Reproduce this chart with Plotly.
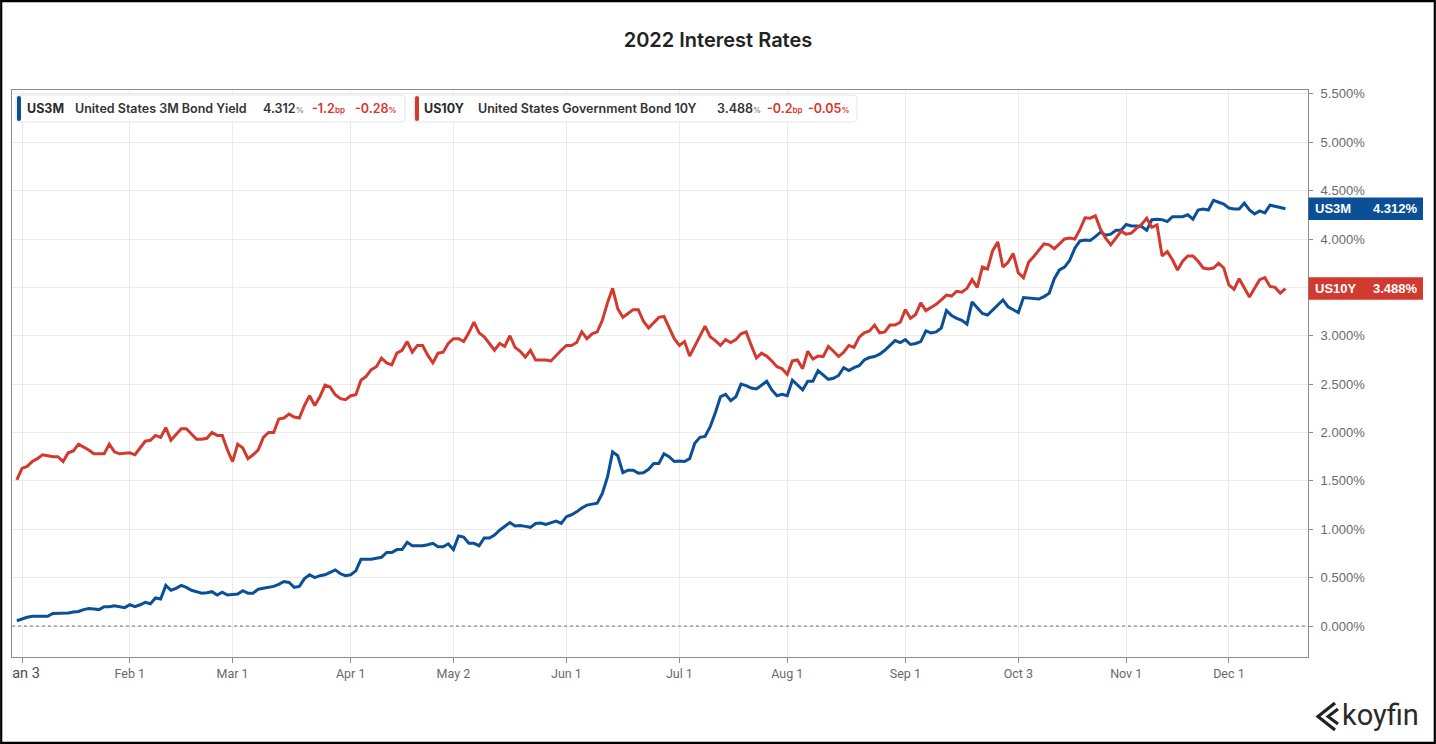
import plotly.graph_objects as go
import pandas as pd

# ---------------- data ----------------
HOLIDAYS = ["2022-04-15", "2022-11-11", "2022-11-24"]
trading_days = [d.strftime("%Y-%m-%d") for d in pd.bdate_range("2021-12-31", "2022-12-16")
                if d.strftime("%Y-%m-%d") not in HOLIDAYS]

us10y_dec21 = [1.51]
us10y_jan = [1.63, 1.65, 1.70, 1.73, 1.77, 1.76, 1.75, 1.75, 1.70, 1.79, 1.81, 1.88, 1.85, 1.82, 1.78, 1.78, 1.78, 1.88, 1.80, 1.78, 1.785]
us10y_feb = [1.79, 1.77, 1.84, 1.91, 1.92, 1.97, 1.95, 2.05, 1.92, 1.98, 2.04, 2.04, 1.99, 1.93, 1.93, 1.94, 2.00, 1.97, 1.97, 1.82]
us10y_mar = [1.70, 1.88, 1.84, 1.73, 1.77, 1.82, 1.95, 2.00, 2.00, 2.14, 2.15, 2.19, 2.16, 2.15, 2.28, 2.38, 2.28, 2.37, 2.49, 2.47, 2.39, 2.35, 2.34]
us10y_apr = [2.38, 2.39, 2.54, 2.58, 2.65, 2.68, 2.77, 2.72, 2.70, 2.82, 2.85, 2.94, 2.83, 2.90, 2.90, 2.80, 2.72, 2.82, 2.83, 2.92]
us10y_may = [2.97, 2.97, 2.94, 3.03, 3.14, 3.03, 2.99, 2.92, 2.85, 2.92, 2.89, 3.00, 2.88, 2.84, 2.78, 2.85, 2.75, 2.75, 2.75, 2.74, 2.80, 2.85]
us10y_jun = [2.90, 2.90, 2.93, 3.04, 2.97, 3.02, 3.04, 3.16, 3.34, 3.49, 3.28, 3.19, 3.23, 3.27, 3.27, 3.15, 3.08, 3.13, 3.19, 3.20, 3.09, 2.97]
us10y_jul = [2.90, 2.94, 2.79, 2.89, 3.00, 3.10, 2.99, 2.95, 2.90, 2.96, 2.93, 2.96, 3.02, 3.04, 2.90, 2.77, 2.82, 2.79, 2.74, 2.68, 2.66]
us10y_aug = [2.60, 2.74, 2.75, 2.66, 2.84, 2.76, 2.79, 2.785, 2.89, 2.84, 2.785, 2.83, 2.90, 2.88, 2.985, 3.03, 3.05, 3.11, 3.03, 3.04, 3.11, 3.11, 3.14]
us10y_sep = [3.27, 3.18, 3.22, 3.34, 3.26, 3.29, 3.325, 3.37, 3.42, 3.41, 3.46, 3.45, 3.49, 3.58, 3.50, 3.71, 3.69, 3.88, 3.97, 3.71, 3.76, 3.85]
us10y_oct = [3.65, 3.60, 3.76, 3.82, 3.89, 3.95, 3.94, 3.90, 3.95, 4.00, 4.01, 4.00, 4.10, 4.22, 4.215, 4.24, 4.10, 4.01, 3.94, 4.01, 4.08]
us10y_nov = [4.05, 4.06, 4.11, 4.15, 4.215, 4.12, 4.145, 3.825, 3.87, 3.785, 3.68, 3.77, 3.825, 3.825, 3.77, 3.70, 3.69, 3.70, 3.75, 3.70]
us10y_dec = [3.525, 3.48, 3.59, 3.49, 3.40, 3.49, 3.58, 3.60, 3.51, 3.50, 3.44, 3.488]

us3m_dec21 = [0.055]
us3m_jan = [0.075, 0.09, 0.10, 0.10, 0.10, 0.10, 0.13, 0.13, 0.13, 0.135, 0.145, 0.15, 0.17, 0.18, 0.175, 0.17, 0.20, 0.20, 0.21, 0.20, 0.19]
us3m_feb = [0.22, 0.20, 0.22, 0.245, 0.23, 0.29, 0.28, 0.42, 0.37, 0.39, 0.42, 0.40, 0.37, 0.355, 0.34, 0.345, 0.355, 0.32, 0.35, 0.32]
us3m_mar = [0.325, 0.33, 0.365, 0.34, 0.34, 0.38, 0.39, 0.40, 0.41, 0.43, 0.46, 0.45, 0.40, 0.41, 0.49, 0.53, 0.50, 0.52, 0.53, 0.555, 0.58, 0.54, 0.52]
us3m_apr = [0.53, 0.57, 0.69, 0.69, 0.69, 0.70, 0.71, 0.76, 0.76, 0.79, 0.79, 0.865, 0.83, 0.83, 0.83, 0.84, 0.855, 0.82, 0.82, 0.85]
us3m_may = [0.79, 0.93, 0.92, 0.855, 0.855, 0.83, 0.91, 0.91, 0.94, 0.99, 1.03, 1.07, 1.035, 1.04, 1.03, 1.02, 1.06, 1.065, 1.05, 1.07, 1.085, 1.06]
us3m_jun = [1.13, 1.15, 1.18, 1.22, 1.25, 1.26, 1.27, 1.37, 1.54, 1.80, 1.76, 1.585, 1.61, 1.61, 1.58, 1.585, 1.62, 1.68, 1.68, 1.78, 1.75, 1.70]
us3m_jul = [1.705, 1.70, 1.73, 1.89, 1.95, 1.96, 2.06, 2.205, 2.37, 2.395, 2.33, 2.37, 2.50, 2.485, 2.46, 2.45, 2.49, 2.53, 2.44, 2.38, 2.395]
us3m_aug = [2.38, 2.54, 2.49, 2.44, 2.53, 2.53, 2.64, 2.595, 2.55, 2.56, 2.59, 2.67, 2.64, 2.67, 2.69, 2.75, 2.775, 2.785, 2.81, 2.85, 2.90, 2.95, 2.93]
us3m_sep = [2.96, 2.91, 2.92, 2.94, 3.05, 3.03, 3.04, 3.08, 3.26, 3.21, 3.18, 3.16, 3.12, 3.35, 3.29, 3.23, 3.215, 3.27, 3.325, 3.37, 3.30, 3.27]
us3m_oct = [3.24, 3.395, 3.39, 3.385, 3.38, 3.405, 3.44, 3.59, 3.68, 3.71, 3.78, 3.905, 3.98, 3.99, 3.985, 4.025, 4.07, 4.04, 4.05, 4.09, 4.09]
us3m_nov = [4.15, 4.135, 4.135, 4.13, 4.09, 4.20, 4.205, 4.20, 4.18, 4.23, 4.23, 4.23, 4.25, 4.205, 4.30, 4.31, 4.30, 4.40, 4.38, 4.36]
us3m_dec = [4.32, 4.31, 4.31, 4.37, 4.30, 4.26, 4.29, 4.27, 4.35, 4.34, 4.325, 4.312]

us10y = (us10y_dec21 + us10y_jan + us10y_feb + us10y_mar + us10y_apr + us10y_may + us10y_jun
         + us10y_jul + us10y_aug + us10y_sep + us10y_oct + us10y_nov + us10y_dec)
us3m = (us3m_dec21 + us3m_jan + us3m_feb + us3m_mar + us3m_apr + us3m_may + us3m_jun
        + us3m_jul + us3m_aug + us3m_sep + us3m_oct + us3m_nov + us3m_dec)

tick_dates = ["2022-01-03", "2022-02-01", "2022-03-01", "2022-04-01", "2022-05-02", "2022-06-01",
              "2022-07-01", "2022-08-01", "2022-09-01", "2022-10-03", "2022-11-01", "2022-12-01"]
tick_labels = ["Jan 3", "Feb 1", "Mar 1", "Apr 1", "May 2", "Jun 1",
               "Jul 1", "Aug 1", "Sep 1", "Oct 3", "Nov 1", "Dec 1"]
y_ticks = [0, 0.5, 1.0, 1.5, 2.0, 2.5, 3.0, 3.5, 4.0, 4.5, 5.0, 5.5]

series_names = ["US3M", "US10Y"]
series_titles = ["United States 3M Bond Yield", "United States Government Bond 10Y"]
last_values = ["4.312", "3.488"]
chg_bp = ["-1.2", "-0.2"]
chg_pct = ["-0.28", "-0.05"]

# ---------------- styling / geometry ----------------
BLUE = "#0b4f96"
RED = "#d23a2f"
GRID = "#ebebeb"
W, H = 1436, 744
PL, PR, PT, PB = 12, 1308, 90, 657   # plot box in pixels
YMIN, YMAX = -0.32, 5.54
XMIN, XMAX = -0.947, 251.4


def px(x):
    return (x - PL) / (PR - PL)


def py(y):
    return (PB - y) / (PB - PT)


def ypix(v):
    return PB - (v - YMIN) / (YMAX - YMIN) * (PB - PT)


# tick values hidden under the last-value tags keep their gridline only
tag_vals = [float(v) for v in last_values]
shown_y = [v for v in y_ticks if all(abs(ypix(v) - ypix(t)) > 9 for t in tag_vals)]
hidden_y = [v for v in y_ticks if v not in shown_y]

fig = go.Figure()
fig.add_trace(go.Scatter(x=trading_days, y=us3m, mode="lines", name="US3M",
                         line=dict(color=BLUE, width=3), hoverinfo="x+y"))
fig.add_trace(go.Scatter(x=trading_days, y=us10y, mode="lines", name="US10Y",
                         line=dict(color=RED, width=3), hoverinfo="x+y"))

ticktext = ["<span style='color:#4a4a4a;font-size:14.5px'>" + tick_labels[0] + "</span>"] + tick_labels[1:]

fig.update_layout(
    width=W, height=H, autosize=False,
    margin=dict(l=PL, r=W - PR, t=PT, b=H - PB, pad=0, autoexpand=False),
    paper_bgcolor="white", plot_bgcolor="white",
    showlegend=False,
    title=dict(text="2022 Interest Rates", x=0.5, xref="container", xanchor="center",
               y=1 - 40 / H, yref="container", yanchor="middle",
               font=dict(family="Inter", size=20, color="#222", weight=600)),
    xaxis=dict(type="category", range=[XMIN, XMAX], tickmode="array",
               tickvals=tick_dates, ticktext=ticktext, automargin=False,
               showgrid=True, gridcolor=GRID, gridwidth=1,
               showline=True, linecolor="#8c8c8c", linewidth=1, mirror=True,
               ticks="outside", ticklen=5, tickcolor="#8c8c8c",
               tickfont=dict(family="Roboto", size=12.5, color="#6a6a6a"),
               zeroline=False, fixedrange=True),
    yaxis=dict(side="right", range=[YMIN, YMAX], tickmode="array", tickvals=shown_y,
               ticktext=[f"{v:.3f}%" for v in shown_y], automargin=False,
               showgrid=True, gridcolor=GRID, gridwidth=1,
               showline=True, linecolor="#8c8c8c", linewidth=1, mirror=True,
               ticks="outside", ticklen=4, tickcolor="#8c8c8c",
               tickfont=dict(family="Liberation Sans", size=13, color="#6a6a6a"),
               ticklabelstandoff=5,
               zeroline=False, fixedrange=True),
)

shapes = []
for v in hidden_y:
    shapes.append(dict(type="line", xref="paper", yref="y", x0=0, x1=1, y0=v, y1=v,
                       line=dict(color=GRID, width=1), layer="below"))
# dotted zero line
shapes.append(dict(type="line", xref="paper", yref="y", x0=0, x1=1, y0=0, y1=0,
                   line=dict(color="#777", width=1, dash="dot"), layer="above"))


def rounded_rect(x0, y0, x1, y1, r):
    X0, X1 = px(x0), px(x1)
    Y0, Y1 = py(y0), py(y1)
    rx = r / (PR - PL)
    ry = r / (PB - PT)
    return (f"M {X0+rx},{Y0} L {X1-rx},{Y0} Q {X1},{Y0} {X1},{Y0-ry} "
            f"L {X1},{Y1+ry} Q {X1},{Y1} {X1-rx},{Y1} L {X0+rx},{Y1} "
            f"Q {X0},{Y1} {X0},{Y1+ry} L {X0},{Y0-ry} Q {X0},{Y0} {X0+rx},{Y0} Z")


# legend boxes
legend_boxes = [(16, 405, BLUE), (414, 857, RED)]
for (bx0, bx1, col) in legend_boxes:
    shapes.append(dict(type="path", xref="paper", yref="paper", path=rounded_rect(bx0, 95, bx1, 122, 4),
                       line=dict(color="#e4e4e4", width=1), fillcolor="white", layer="above"))
    shapes.append(dict(type="path", xref="paper", yref="paper", path=rounded_rect(bx0 + 1, 96, bx0 + 5, 121, 2),
                       line=dict(width=0), fillcolor=col, layer="above"))

# right-side last value tags
tag_cols = [BLUE, RED]
for v, col in zip(tag_vals, tag_cols):
    shapes.append(dict(type="rect", xref="paper", yref="y", x0=px(1308.5), x1=px(1423),
                       y0=v - 0.116, y1=v + 0.116, line=dict(width=0), fillcolor=col, layer="above"))

# white mask clipping the first x label at the plot's left edge
shapes.append(dict(type="rect", xref="paper", yref="paper", x0=px(2.5), x1=px(11.5),
                   y0=py(690), y1=py(662), line=dict(width=0), fillcolor="white", layer="above"))

# koyfin logo icon
shapes.append(dict(type="path", xref="paper", yref="paper",
                   path=f"M {px(1335)},{py(703)} L {px(1318)},{py(716.5)} L {px(1335)},{py(730)}",
                   line=dict(color="#222", width=3.2), layer="above"))
shapes.append(dict(type="path", xref="paper", yref="paper",
                   path=f"M {px(1338)},{py(709)} L {px(1328)},{py(716.5)} L {px(1338)},{py(724)}",
                   line=dict(color="#222", width=3), layer="above"))

# outer frame
shapes.append(dict(type="rect", xref="paper", yref="paper", x0=px(1.2), x1=px(1434.8),
                   y0=py(742.8), y1=py(1.2), line=dict(color="black", width=2.2), layer="above"))

fig.update_layout(shapes=shapes)

annotations = []


def add_text(x, y, text, size, color, family="Inter", weight=600, xanchor="left"):
    annotations.append(dict(x=px(x), y=py(y), xref="paper", yref="paper", text=text,
                            showarrow=False, xanchor=xanchor, yanchor="middle",
                            borderpad=0, borderwidth=0,
                            font=dict(family=family, size=size, color=color, weight=weight)))


LEG_Y = 108.5
legend_x = [(27, 75, 263, 312, 355), (424, 478, 717, 767, 808)]
for i in range(2):
    kx, nx, vx, bx, cx = legend_x[i]
    add_text(kx, LEG_Y, series_names[i], 12.5, "#2a2a2a", weight=700)
    add_text(nx, LEG_Y, series_titles[i], 12.5, "#333")
    add_text(vx, LEG_Y, last_values[i] + "<span style='font-size:8px;color:#8a8a8a'>%</span>", 12.5, "#333")
    add_text(bx, LEG_Y, chg_bp[i] + "<span style='font-size:8px'>bp</span>", 12.5, "#d8362b")
    add_text(cx, LEG_Y, chg_pct[i] + "<span style='font-size:8px'>%</span>", 12.5, "#d8362b")

# tag texts
for i, v in enumerate(tag_vals):
    add_text(1315, ypix(v), series_names[i], 13, "white", family="Liberation Sans", weight=700)
    add_text(1418, ypix(v), last_values[i] + "%", 13, "white", family="Liberation Sans", weight=700, xanchor="right")

# koyfin word
add_text(1342, 715, "koyfin", 29, "#2a2a2a", family="Roboto", weight=400)

fig.update_layout(annotations=annotations)

fig.write_html("out.html", config={"displayModeBar": False},
               post_script="document.body.style.margin='0';document.body.style.overflow='hidden';")
